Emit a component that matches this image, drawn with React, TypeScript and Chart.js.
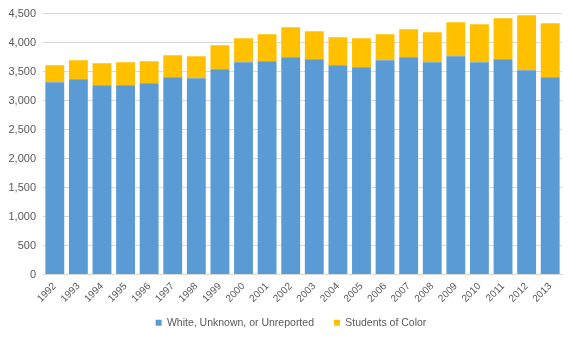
import React, { useEffect, useRef } from "react";
import { Chart, registerables } from "chart.js";

Chart.register(...registerables);

const years = ["1992","1993","1994","1995","1996","1997","1998","1999","2000","2001","2002","2003","2004","2005","2006","2007","2008","2009","2010","2011","2012","2013"];
const whiteUnknown = [3316,3367,3264,3264,3298,3402,3385,3540,3660,3678,3747,3712,3609,3574,3695,3747,3660,3764,3660,3712,3522,3402];
const studentsOfColor = [293,328,379,396,380,379,379,413,414,465,517,483,482,500,448,482,518,586,656,707,949,931];
const yTicks = [0,500,1000,1500,2000,2500,3000,3500,4000,4500];

const noLabelClip = {
  id: "noLabelClip",
  beforeDraw(chart: any) {
    Object.values(chart.scales).forEach((s: any) => {
      s._computeLabelArea = () => undefined;
    });
  },
};

export default function App() {
  const ref = useRef<HTMLCanvasElement>(null);
  useEffect(() => {
    if (!ref.current) return;
    const font = { family: "'Liberation Sans', Arial, sans-serif", size: 11 };
    const chart = new Chart(ref.current, {
      type: "bar",
      data: {
        labels: years,
        datasets: [
          { label: "White, Unknown, or Unreported", data: whiteUnknown, backgroundColor: "#5B9BD5", barPercentage: 0.8, categoryPercentage: 1 },
          { label: "Students of Color", data: studentsOfColor, backgroundColor: "#FFC000", barPercentage: 0.8, categoryPercentage: 1 },
        ],
      },
      plugins: [noLabelClip],
      options: {
        animation: false,
        responsive: true,
        maintainAspectRatio: false,
        layout: { padding: { top: 8, right: 14, left: 20, bottom: 2 } },
        plugins: {
          legend: {
            position: "bottom",
            labels: { boxWidth: 6, boxHeight: 6, font: { ...font, size: 10.5 }, color: "#595959", padding: 20 },
          },
          tooltip: { enabled: false },
        },
        scales: {
          x: {
            stacked: true,
            grid: { display: false, drawTicks: false },
            border: { color: "#d9d9d9" },
            ticks: { font: { ...font, size: 10 }, color: "#595959", minRotation: 45, maxRotation: 45, padding: 6 },
            afterFit: (s: any) => { s.height = 23; },
          },
          y: {
            stacked: true,
            min: 0,
            max: 4500,
            afterBuildTicks: (s: any) => { s.ticks = yTicks.map((v) => ({ value: v })); },
            grid: { color: "#d9d9d9", drawTicks: false },
            border: { display: false },
            ticks: { font, color: "#595959", padding: 7, callback: (v: any) => Number(v).toLocaleString("en-US") },
            afterFit: (s: any) => { s.width = 23; },
          },
        },
      },
    });
    return () => chart.destroy();
  }, []);
  return (
    <div style={{ position: "absolute", left: 0, top: 0, width: 576, height: 340, background: "#fff" }}>
      <canvas ref={ref} />
    </div>
  );
}
